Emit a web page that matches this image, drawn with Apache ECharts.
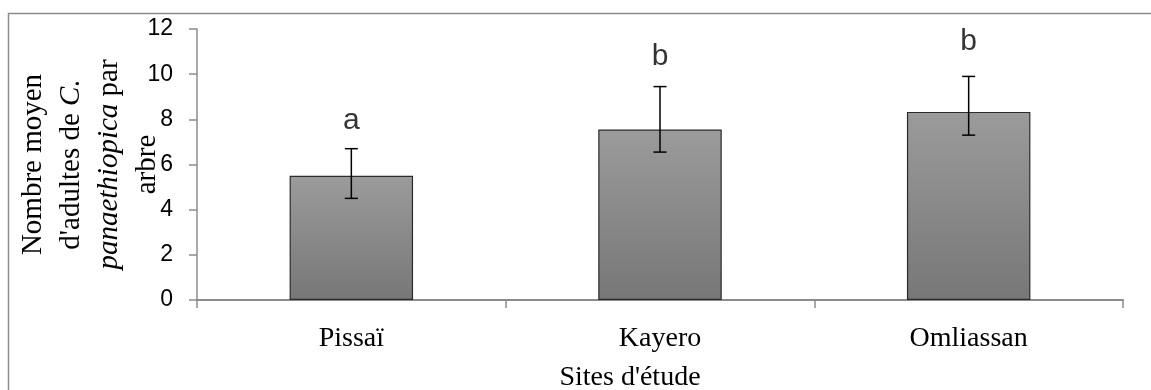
<!DOCTYPE html>
<html>
<head>
<meta charset="utf-8">
<script src="https://cdn.jsdelivr.net/npm/echarts@6/dist/echarts.min.js"></script>
<style>
html,body{margin:0;padding:0;background:#fff;}
#chart{width:1151px;height:390px;}
</style>
</head>
<body>
<div id="chart"></div>
<script>
const categories = ['Pissaï', 'Kayero', 'Omliassan'];
const means = [5.5, 7.55, 8.33];
const errUpper = [6.7, 9.45, 9.9];
const errLower = [4.5, 6.55, 7.3];
const letters = ['a', 'b', 'b'];
const letterY = [7.95, 10.75, 11.45];
const yTicks = [0, 2, 4, 6, 8, 10, 12];

const chart = echarts.init(document.getElementById('chart'));
const serif = '"Liberation Serif", "Times New Roman", serif';
const sans = '"Liberation Sans", Arial, sans-serif';

chart.setOption({
  animation: false,
  backgroundColor: '#fff',
  graphic: [{
    type: 'rect',
    shape: { x: 8.5, y: 13.5, width: 1300, height: 600 },
    style: { fill: 'none', stroke: '#8c8c8c', lineWidth: 1.5 },
    silent: true, z: -10
  }],
  grid: { left: 197, right: 28, top: 29, bottom: 90, outerBoundsMode: 'none', containLabel: false },
  xAxis: {
    type: 'category',
    data: categories,
    boundaryGap: true,
    axisLine: { lineStyle: { color: '#8c8c8c', width: 2 } },
    axisTick: { show: true, length: 8, inside: false, lineStyle: { color: '#8c8c8c', width: 1.5 } },
    axisLabel: { color: '#000', fontFamily: serif, fontSize: 28, margin: 25 },
    name: "Sites d'étude",
    nameLocation: 'middle',
    nameGap: 64,
    nameMoveOverlap: false,
    nameTextStyle: { color: '#000', fontFamily: serif, fontSize: 28, padding: [0, 60, 0, 0] }
  },
  yAxis: {
    type: 'value',
    min: 0, max: 12, interval: 2,
    splitLine: { show: false },
    axisLine: { show: true, lineStyle: { color: '#8c8c8c', width: 1.5 } },
    axisTick: { show: true, length: 8, lineStyle: { color: '#8c8c8c', width: 1.5 } },
    axisLabel: {
      color: '#000', fontFamily: sans, fontSize: 23, margin: 24,
      customValues: yTicks
    },
    name: '{n|Nombre moyen}\n{n|d\'adultes de }{i|C.}\n{i|panaethiopica}{n| par}\n{n|arbre}',
    nameLocation: 'middle',
    nameRotate: 90,
    nameGap: 31,
    nameMoveOverlap: false,
    nameTextStyle: {
      color: '#000', align: 'center',
      rich: {
        n: { fontFamily: serif, fontSize: 29, lineHeight: 38, color: '#000' },
        i: { fontFamily: serif, fontSize: 29, lineHeight: 38, fontStyle: 'italic', color: '#000' }
      }
    }
  },
  series: [
    {
      type: 'bar',
      data: means,
      barWidth: '40%',
      itemStyle: {
        color: new echarts.graphic.LinearGradient(0, 0, 0, 1, [
          { offset: 0, color: '#9b9b9b' },
          { offset: 1, color: '#777777' }
        ]),
        borderColor: '#2b2b2b',
        borderWidth: 1.2
      }
    },
    {
      type: 'custom',
      data: categories.map((c, i) => [i, errLower[i], errUpper[i]]),
      z: 10,
      renderItem: function (params, api) {
        const x = api.value(0);
        const lo = api.coord([x, api.value(1)]);
        const hi = api.coord([x, api.value(2)]);
        const cw = 6.5;
        const st = { stroke: '#000', lineWidth: 1.5 };
        return {
          type: 'group',
          children: [
            { type: 'line', shape: { x1: hi[0], y1: hi[1], x2: lo[0], y2: lo[1] }, style: st },
            { type: 'line', shape: { x1: hi[0] - cw, y1: hi[1], x2: hi[0] + cw, y2: hi[1] }, style: st },
            { type: 'line', shape: { x1: lo[0] - cw, y1: lo[1], x2: lo[0] + cw, y2: lo[1] }, style: st }
          ]
        };
      }
    },
    {
      type: 'scatter',
      data: categories.map((c, i) => [i, letterY[i]]),
      symbolSize: 0,
      z: 11,
      label: {
        show: true,
        position: 'inside',
        formatter: p => letters[p.dataIndex],
        color: '#000',
        fontFamily: sans,
        fontSize: 30
      }
    }
  ]
});
</script>
</body>
</html>
